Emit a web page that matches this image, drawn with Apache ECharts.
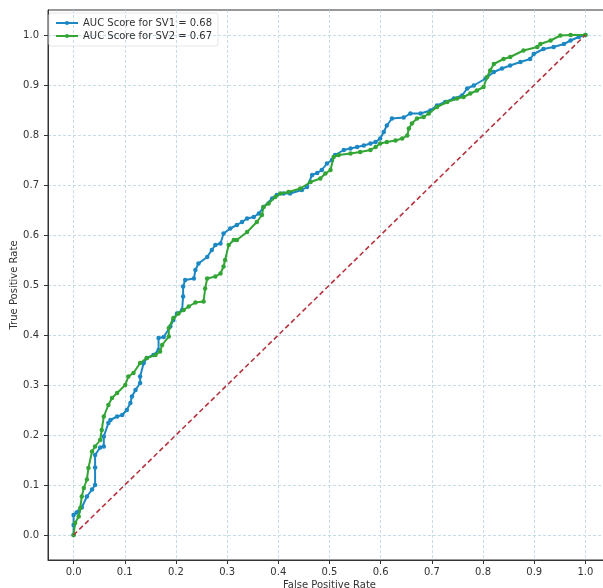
<!DOCTYPE html>
<html><head><meta charset="utf-8">
<script src="https://cdn.jsdelivr.net/npm/echarts@6/dist/echarts.min.js"></script>
<style>html,body{margin:0;padding:0;background:#fff}#c{width:603px;height:588px}</style>
</head><body><div id="c"></div>
<script>
const tickValues = [0,0.1,0.2,0.3,0.4,0.5,0.6,0.7,0.8,0.9,1.0];
const legendNames = ['AUC Score for SV1 = 0.68','AUC Score for SV2 = 0.67'];

const sv1Fpr = [0,0,0,0.006,0.01,0.016,0.026,0.036,0.042,0.042,
0.042,0.052,0.059,0.059,0.068,0.072,0.085,0.095,0.104,0.111,
0.114,0.121,0.13,0.13,0.137,0.143,0.156,0.166,0.166,0.176,
0.189,0.195,0.202,0.212,0.214,0.214,0.218,0.235,0.238,0.244,
0.261,0.27,0.277,0.287,0.293,0.306,0.319,0.329,0.339,0.352,
0.362,0.371,0.388,0.397,0.41,0.423,0.446,0.456,0.466,0.476,
0.485,0.495,0.505,0.511,0.528,0.541,0.554,0.567,0.58,0.59,
0.599,0.606,0.612,0.622,0.645,0.658,0.678,0.697,0.71,0.726,
0.743,0.759,0.769,0.782,0.805,0.821,0.837,0.853,0.873,0.892,
0.899,0.918,0.938,0.958,0.971,0.987,1.0];
const sv1Tpr = [0,0.02,0.04,0.045,0.047,0.055,0.077,0.091,0.10,0.135,
0.16,0.175,0.177,0.197,0.224,0.23,0.237,0.24,0.25,0.264,
0.277,0.29,0.304,0.317,0.344,0.354,0.36,0.37,0.394,0.396,
0.417,0.43,0.443,0.45,0.477,0.497,0.51,0.513,0.53,0.543,
0.556,0.57,0.58,0.583,0.603,0.613,0.62,0.626,0.633,0.636,
0.643,0.656,0.673,0.68,0.683,0.683,0.69,0.696,0.72,0.724,
0.73,0.743,0.75,0.76,0.77,0.773,0.776,0.779,0.783,0.786,
0.793,0.806,0.819,0.833,0.835,0.843,0.843,0.849,0.859,0.866,
0.873,0.879,0.893,0.899,0.913,0.926,0.933,0.939,0.946,0.952,
0.962,0.972,0.976,0.982,0.989,0.996,1.0];

const sv2Fpr = [0,0.003,0.01,0.013,0.016,0.02,0.026,0.029,0.036,0.042,
0.052,0.055,0.059,0.068,0.075,0.085,0.101,0.107,0.117,0.13,
0.143,0.16,0.169,0.173,0.186,0.186,0.195,0.205,0.215,0.225,
0.238,0.254,0.257,0.261,0.277,0.287,0.293,0.296,0.303,0.313,
0.319,0.339,0.358,0.368,0.371,0.381,0.394,0.404,0.42,0.443,
0.463,0.482,0.492,0.502,0.508,0.518,0.541,0.56,0.58,0.59,
0.599,0.612,0.629,0.642,0.652,0.655,0.661,0.671,0.684,0.694,
0.71,0.73,0.749,0.762,0.775,0.788,0.801,0.808,0.814,0.821,
0.84,0.853,0.879,0.906,0.912,0.932,0.951,0.971,1.0];
const sv2Tpr = [0,0.024,0.037,0.054,0.077,0.094,0.111,0.134,0.167,0.177,
0.19,0.21,0.237,0.26,0.274,0.284,0.30,0.317,0.324,0.344,
0.354,0.36,0.367,0.38,0.397,0.414,0.434,0.443,0.45,0.457,
0.465,0.467,0.493,0.513,0.517,0.523,0.537,0.55,0.58,0.59,
0.59,0.606,0.626,0.64,0.656,0.663,0.676,0.683,0.686,0.693,
0.706,0.713,0.723,0.73,0.756,0.76,0.763,0.766,0.77,0.776,
0.783,0.786,0.789,0.793,0.799,0.813,0.823,0.833,0.836,0.843,
0.856,0.866,0.873,0.876,0.883,0.889,0.896,0.916,0.929,0.942,
0.952,0.956,0.969,0.976,0.982,0.989,0.999,1.0,1.0];

const diagFpr = [0,1];
const diagTpr = [0,1];

const zip = (a,b) => a.map((v,i)=>[v,b[i]]);
const FONT = 'DejaVu Sans';
const gridLine = {show:true, lineStyle:{color:'#b9d3df', type:[3,2], width:0.8}};

function axisCommon(name, gap, rotate, margin){
  return {
    type:'value', min:-0.05, max:1.05,
    name:name, nameLocation:'middle', nameGap:gap, nameRotate:rotate, nameMoveOverlap:false,
    nameTextStyle:{fontFamily:FONT, fontSize:10, color:'#333'},
    axisLine:{show:true, onZero:false, lineStyle:{color:'#333', width:1}},
    axisTick:{show:true, length:4, customValues:tickValues, lineStyle:{color:'#333'}},
    axisLabel:{customValues:tickValues, fontFamily:FONT, fontSize:10, color:'#333', margin:margin,
      formatter:v=>v.toFixed(1)},
    splitLine:gridLine
  };
}

const chart = echarts.init(document.getElementById('c'), null, {renderer:'canvas'});
chart.setOption({
  backgroundColor:'#fff',
  animation:false,
  grid:{left:48, top:10, width:563, height:550, show:true, borderColor:'#333', borderWidth:1,
        outerBoundsMode:'none', containLabel:false},
  legend:{
    data:legendNames, orient:'vertical', left:49, top:13,
    itemWidth:22, itemHeight:5, itemGap:3, padding:[5,6,5,6],
    borderColor:'#e2e6ea', borderWidth:1, borderRadius:2,
    textStyle:{fontFamily:FONT, fontSize:10, color:'#333'}
  },
  xAxis:axisCommon('False Positive Rate', 20, 0, 7),
  yAxis:axisCommon('True Positive Rate', 29, 90, 9),
  series:[
    {name:legendNames[0], type:'line', data:zip(sv1Fpr, sv1Tpr),
     symbol:'circle', symbolSize:4.5, showAllSymbol:true,
     lineStyle:{color:'#1b87c3', width:2}, itemStyle:{color:'#1b87c3'}, z:2},
    {name:legendNames[1], type:'line', data:zip(sv2Fpr, sv2Tpr),
     symbol:'circle', symbolSize:4.5, showAllSymbol:true,
     lineStyle:{color:'#33a535', width:2}, itemStyle:{color:'#33a535'}, z:3},
    {name:'diag', type:'line', data:zip(diagFpr, diagTpr), symbol:'none',
     lineStyle:{color:'#b5343f', width:1.6, type:[5,3]}, z:4}
  ]
});
</script>
</body></html>
